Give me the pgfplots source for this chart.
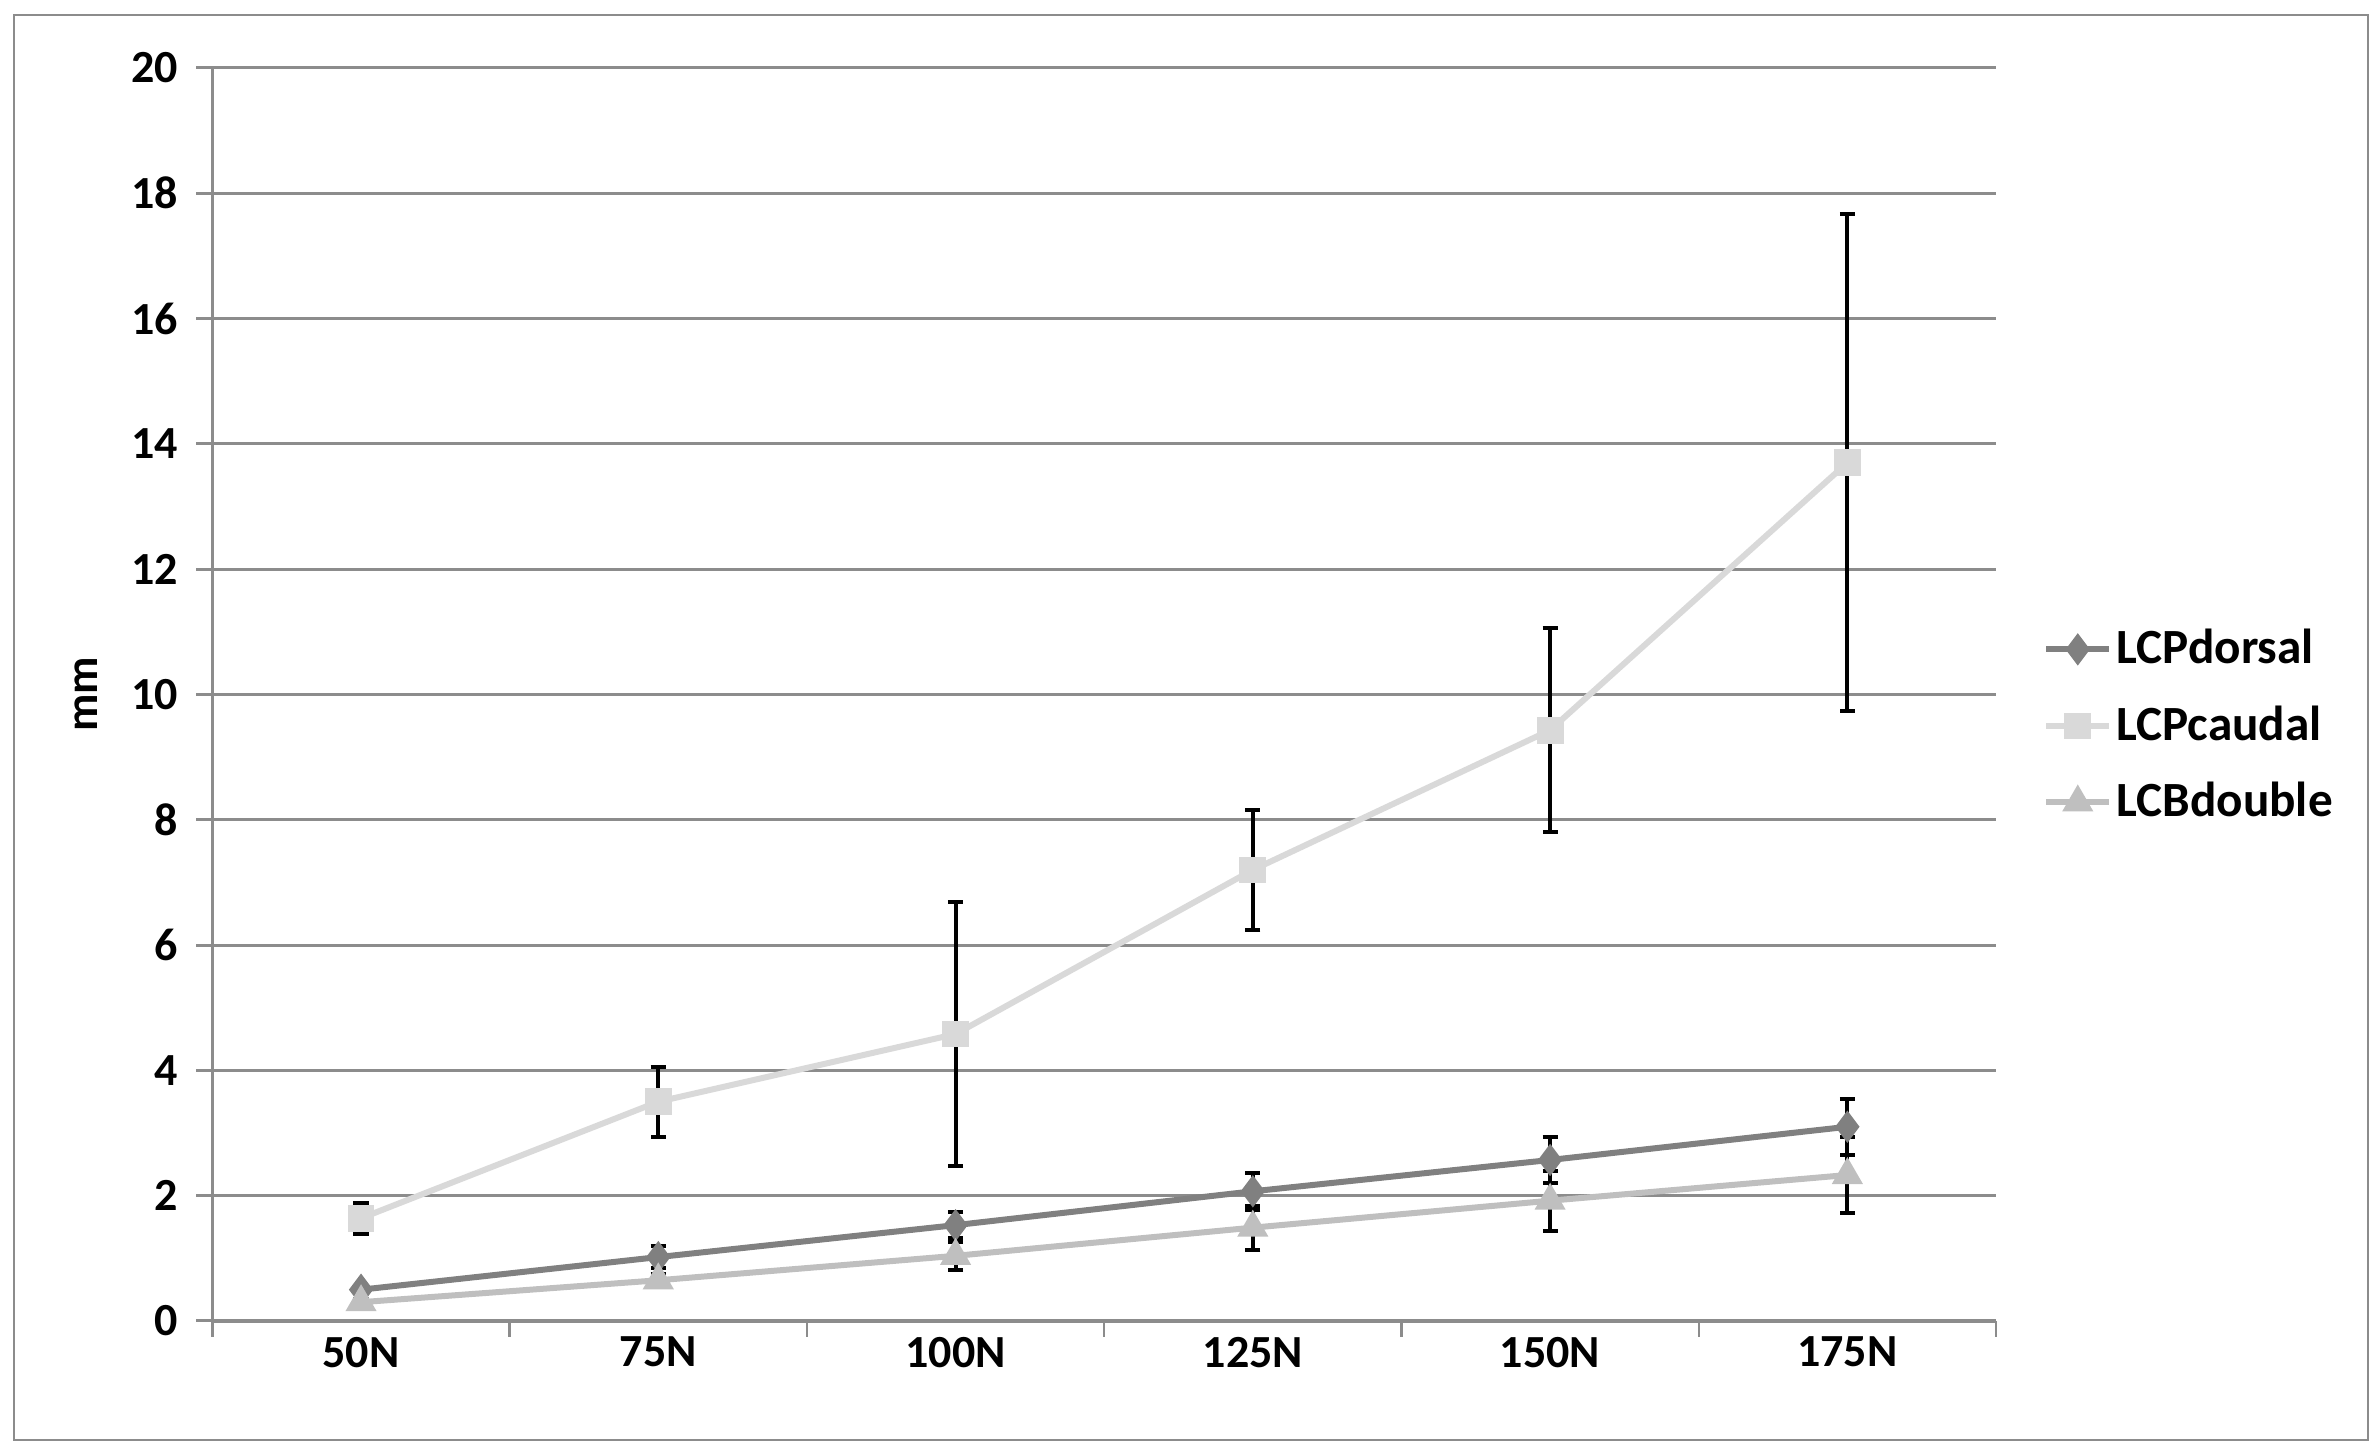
\documentclass[border=0pt]{standalone}
\usepackage{fontspec}
\setmainfont{Carlito}
\usepackage{pgfplots}
\pgfplotsset{compat=1.18}

\definecolor{dorsal}{HTML}{808080}
\definecolor{caudal}{HTML}{D9D9D9}
\definecolor{double}{HTML}{BFBFBF}
\definecolor{gridc}{HTML}{8C8C8C}

\begin{document}
\begin{tikzpicture}
\useasboundingbox (0,0) rectangle (595pt,363.75pt);
\draw[gridc, line width=0.6pt] (3.5pt,3.75pt) rectangle (592pt,360pt);
\begin{axis}[
    at={(53.1pt,33.5pt)}, anchor=south west,
    scale only axis,
    width=445.9pt, height=313.25pt,
    xmin=-0.5, xmax=5.5,
    ymin=0, ymax=20,
    axis x line*=bottom, axis y line*=left,
    axis line style={gridc, line width=0.8pt, -},
    xtick={0,1,2,3,4,5},
    xticklabels={50N,75N,100N,125N,150N,175N},
    minor xtick={-0.5,0.5,1.5,2.5,3.5,4.5,5.5},
    ytick={0,2,...,20},
    tick align=outside,
    major tick length=4pt,
    minor tick length=4pt,
    x tick style={draw=none},
    minor x tick style={draw=gridc, line width=0.6pt},
    y tick style={gridc, line width=0.75pt},
    ymajorgrids,
    major grid style={gridc, line width=0.75pt},
    /pgf/number format/assume math mode=true,
    tick label style={font=\bfseries\fontsize{11.5}{13}\selectfont, black},
    yticklabel style={xshift=-1pt},
    xticklabel style={yshift=3.5pt},
    ylabel={mm},
    ylabel style={font=\bfseries\fontsize{11.5}{13}\selectfont, at={(axis description cs:0,0.5)}, anchor=center, yshift=31.5pt},
    legend style={at={(1.026,0.556)}, anchor=north west, draw=none, fill=none,
        font=\bfseries\fontsize{12.3}{14}\selectfont, row sep=7pt,
        inner sep=0pt, nodes={inner sep=1pt}},
    legend cell align=left,
    legend image code/.code={\draw[mark repeat=2, mark phase=2] plot coordinates {(0pt,0pt) (7.9pt,0pt) (15.8pt,0pt)};},
    error bars/y dir=both,
    error bars/y explicit,
    error bars/error bar style={black, line width=1pt},
    error bars/error mark options={rotate=90, black, mark size=1.9pt, line width=1pt},
]
\addplot[color=dorsal, line width=1.5pt, mark=diamond*, mark size=2.8pt, mark options={solid}]
    coordinates {
    (0,0.50) +- (0,0.05)
    (1,1.02) +- (0,0.17)
    (2,1.53) +- (0,0.21)
    (3,2.07) +- (0,0.30)
    (4,2.57) +- (0,0.36)
    (5,3.10) +- (0,0.45)
    };
\addlegendentry{LCPdorsal}
\addplot[color=caudal, line width=1.5pt, mark=square*, mark size=2.6pt]
    coordinates {
    (0,1.64) +- (0,0.25)
    (1,3.50) +- (0,0.56)
    (2,4.58) +- (0,2.10)
    (3,7.20) +- (0,0.96)
    (4,9.43) +- (0,1.63)
    (5,13.70) +- (0,3.97)
    };
\addlegendentry{LCPcaudal}
\addplot[color=double, line width=1.5pt, mark=triangle*, mark size=3pt]
    coordinates {
    (0,0.30) +- (0,0.05)
    (1,0.65) +- (0,0.10)
    (2,1.04) +- (0,0.22)
    (3,1.49) +- (0,0.35)
    (4,1.92) +- (0,0.48)
    (5,2.33) +- (0,0.60)
    };
\addlegendentry{LCBdouble}
\end{axis}
\end{tikzpicture}
\end{document}
